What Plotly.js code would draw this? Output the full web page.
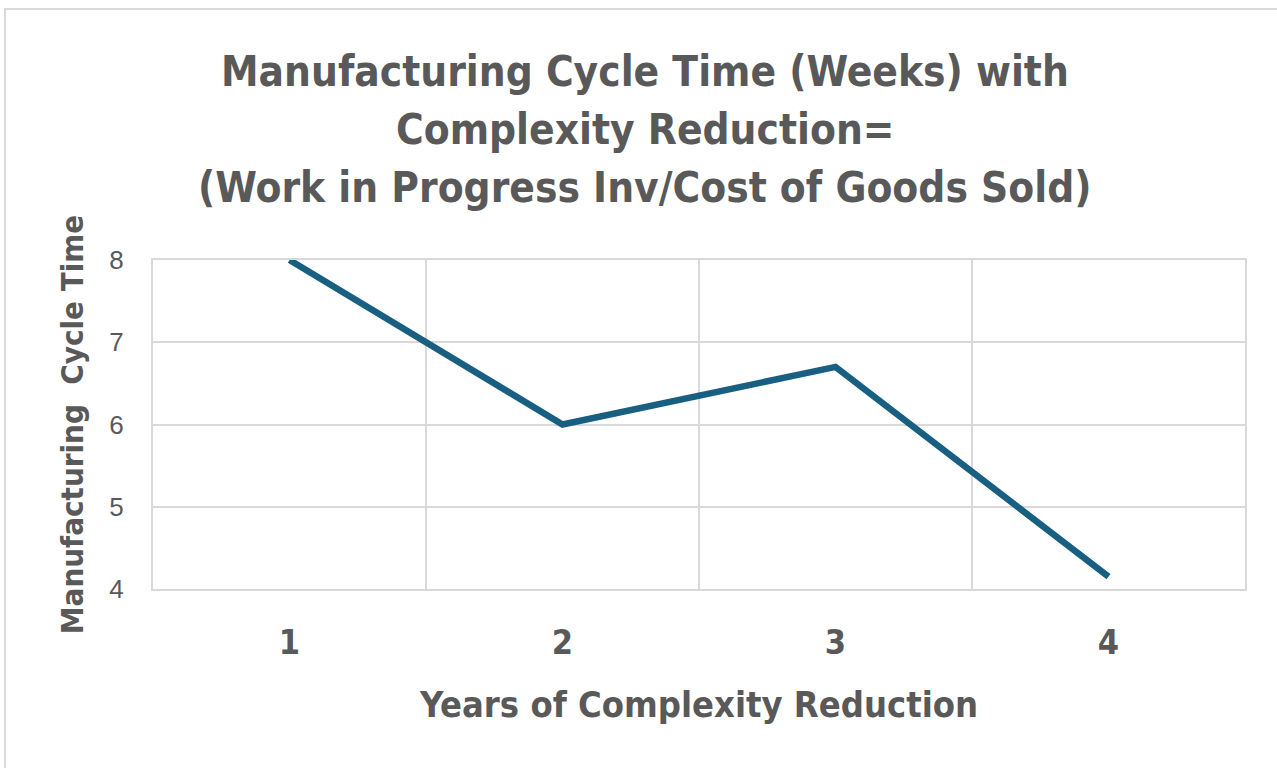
<!DOCTYPE html>
<html>
<head>
<meta charset="utf-8">
<script src="https://cdn.plot.ly/plotly-3.0.1.min.js"></script>
<style>
  html, body { margin: 0; padding: 0; background: #ffffff; }
  #chart { width: 1277px; height: 768px; }
</style>
</head>
<body>
<div id="chart"></div>
<script>
// Data
const years = [1, 2, 3, 4];
const yearLabels = ['1', '2', '3', '4'];
const cycleTime = [8.0, 6.0, 6.7, 4.15];
const yTicks = [4, 5, 6, 7, 8];
const categoryEdges = [0.5, 1.5, 2.5, 3.5, 4.5];
const titleLines = [
  'Manufacturing Cycle Time (Weeks) with',
  'Complexity Reduction=',
  '(Work in Progress Inv/Cost of Goods Sold)'
];

const narrow = '"DejaVu Sans Condensed", "Liberation Sans Narrow", sans-serif';
const grey = '#595959';
const gridGrey = '#d9d9d9';

const traces = [{
  x: years,
  y: cycleTime,
  type: 'scatter',
  mode: 'lines',
  line: { color: '#185f82', width: 6.5 },
  xaxis: 'x',
  yaxis: 'y',
  showlegend: false,
  hoverinfo: 'x+y'
}, {
  x: years,
  y: cycleTime,
  type: 'scatter',
  mode: 'none',
  xaxis: 'x2',
  yaxis: 'y',
  showlegend: false,
  hoverinfo: 'skip'
}];

const titleY = [1.572, 1.396, 1.220];

const layout = {
  width: 1277,
  height: 768,
  paper_bgcolor: '#ffffff',
  plot_bgcolor: '#ffffff',
  margin: { l: 153, r: 32, t: 260, b: 179, pad: 0 },
  showlegend: false,
  annotations: titleLines.map((t, i) => ({
    text: t,
    xref: 'paper', yref: 'paper',
    x: 0.4505, y: titleY[i],
    xanchor: 'center', yanchor: 'middle',
    showarrow: false,
    font: { family: narrow, size: 42, color: grey, weight: 'bold' }
  })),
  xaxis: {
    range: [0.5, 4.5],
    tickmode: 'array',
    tickvals: categoryEdges,
    ticktext: categoryEdges.map(() => ''),
    showgrid: true,
    gridcolor: gridGrey,
    gridwidth: 2,
    zeroline: false,
    showline: true,
    mirror: true,
    linecolor: gridGrey,
    linewidth: 2,
    ticks: '',
    fixedrange: true
  },
  xaxis2: {
    overlaying: 'x',
    side: 'bottom',
    range: [0.5, 4.5],
    tickmode: 'array',
    tickvals: years,
    ticktext: yearLabels,
    showgrid: false,
    zeroline: false,
    showline: false,
    ticks: '',
    ticklabelstandoff: 30,
    tickfont: { family: narrow, size: 34, color: grey, weight: 'bold' },
    title: {
      text: 'Years of Complexity Reduction',
      font: { family: narrow, size: 36, color: grey, weight: 'bold' },
      standoff: 30
    },
    automargin: false,
    fixedrange: true
  },
  yaxis: {
    range: [4, 8],
    tickmode: 'array',
    tickvals: yTicks,
    ticktext: yTicks.map(String),
    showgrid: true,
    gridcolor: gridGrey,
    gridwidth: 2,
    zeroline: false,
    showline: true,
    mirror: true,
    linecolor: gridGrey,
    linewidth: 2,
    ticks: '',
    ticklabelstandoff: 22,
    tickfont: { family: '"Liberation Sans", Arial, sans-serif', size: 26, color: grey },
    title: {
      text: 'Manufacturing  Cycle Time',
      font: { family: narrow, size: 31, color: grey, weight: 'bold' },
      standoff: 16
    },
    automargin: false,
    fixedrange: true
  },
  shapes: [{
    type: 'rect',
    xref: 'paper', yref: 'paper',
    x0: -0.1355, x1: 1.2,
    y0: -1, y1: 1.763,
    line: { color: gridGrey, width: 2 },
    fillcolor: 'rgba(0,0,0,0)',
    layer: 'below'
  }]
};

Plotly.newPlot('chart', traces, layout, { displayModeBar: false, staticPlot: true });
</script>
</body>
</html>
